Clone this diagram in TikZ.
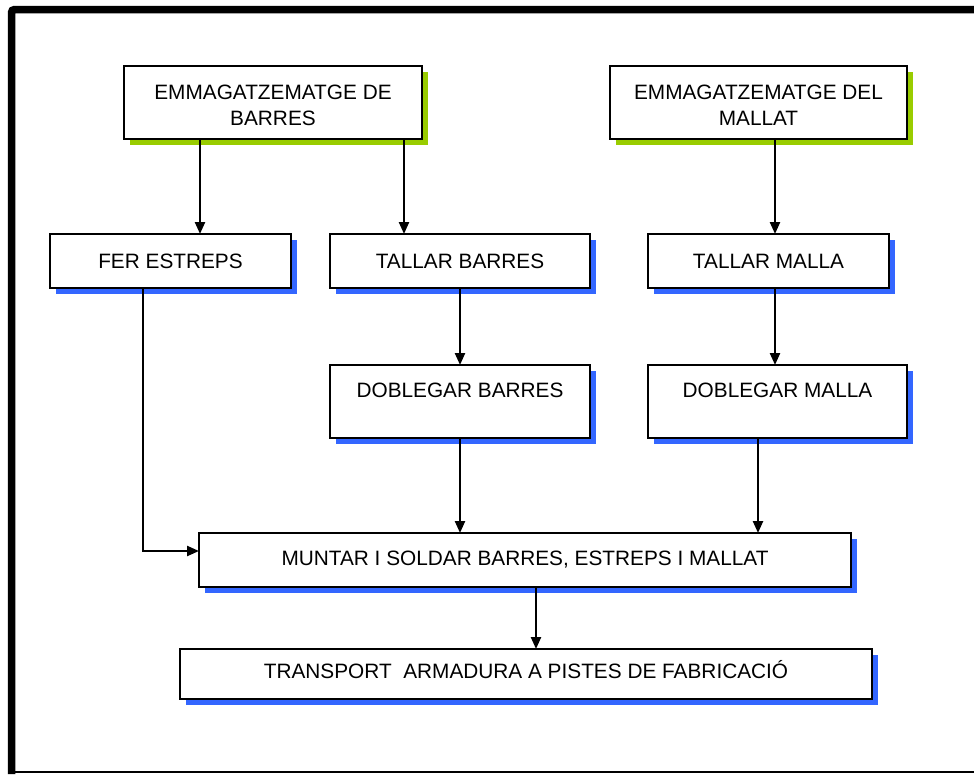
\documentclass[tikz,border=0pt]{standalone}
\usepackage{fontspec}
\setmainfont{Liberation Sans}
\usetikzlibrary{arrows.meta,shadows}
\definecolor{shadegreen}{HTML}{99CC00}
\definecolor{shadeblue}{HTML}{3366FF}
\begin{document}
\begin{tikzpicture}[x=1pt,y=-1pt,
  every node/.style={inner sep=0pt,outer sep=0pt},
  stepbox/.style={draw=black,line width=2.2pt,fill=white,rectangle,align=center,
    font=\fontsize{20.8}{26}\selectfont},
  greenbox/.style={stepbox,drop shadow={shadow xshift=6pt,shadow yshift=-6pt,fill=shadegreen,opacity=1}},
  bluebox/.style={stepbox,drop shadow={shadow xshift=6pt,shadow yshift=-6pt,fill=shadeblue,opacity=1}},
  arr/.style={line width=2.3pt,-{Triangle[length=12pt,width=10pt]}}]
\useasboundingbox (0,0) rectangle (974,774);
% outer frame
\draw[line width=7.5pt,rounded corners=3pt] (11.5,774) -- (11.5,9.5) -- (974,9.5);
\draw[line width=2.2pt] (15,772) -- (974,772);
% storage boxes
\node[greenbox,minimum width=298pt,minimum height=73pt] (barres) at (273,102.5)
  {\rule{0pt}{20pt}EMMAGATZEMATGE DE\\BARRES};
\node[greenbox,minimum width=297pt,minimum height=73pt] (mallat) at (758.5,102.5)
  {\rule{0pt}{20pt}EMMAGATZEMATGE DEL\\MALLAT};
% processing boxes
\node[bluebox,minimum width=241pt,minimum height=54pt] (estreps) at (170.5,261) {FER ESTREPS};
\node[bluebox,minimum width=260pt,minimum height=54pt] (tallarb) at (460,261) {TALLAR BARRES};
\node[bluebox,minimum width=241pt,minimum height=54pt] (tallarm) at (768.5,261) {TALLAR MALLA};
\node[bluebox,minimum width=260pt,minimum height=73pt] (doblb) at (460,401.5) {DOBLEGAR BARRES\\[-12pt]\strut};
\node[bluebox,minimum width=259pt,minimum height=73pt] (doblm) at (777.5,401.5) {DOBLEGAR MALLA\\[-12pt]\strut};
\node[bluebox,minimum width=652pt,minimum height=54pt] (muntar) at (525,560) {MUNTAR I SOLDAR BARRES, ESTREPS I MALLAT};
\node[bluebox,minimum width=692pt,minimum height=50pt] (transport) at (526,674)
  {\rule[-9pt]{0pt}{9pt}TRANSPORT\ \ ARMADURA A PISTES DE FABRICACIÓ};
% connector guides
\coordinate (xa) at (200,0);
\coordinate (xb) at (404,0);
\coordinate (xc) at (775,0);
\coordinate (xd) at (460,0);
\coordinate (xe) at (758,0);
\coordinate (xf) at (536,0);
\coordinate (bend) at (143,551);
% connectors
\draw[arr] (barres.south -| xa) -- (estreps.north -| xa);
\draw[arr] (barres.south -| xb) -- (tallarb.north -| xb);
\draw[arr] (mallat.south -| xc) -- (tallarm.north -| xc);
\draw[arr] (tallarb.south -| xd) -- (doblb.north -| xd);
\draw[arr] (tallarm.south -| xc) -- (doblm.north -| xc);
\draw[arr] (doblb.south -| xd) -- (muntar.north -| xd);
\draw[arr] (doblm.south -| xe) -- (muntar.north -| xe);
\draw[arr] (estreps.south -| bend) -- (bend) -- (muntar.west |- bend);
\draw[arr] (muntar.south -| xf) -- (transport.north -| xf);
\end{tikzpicture}
\end{document}
